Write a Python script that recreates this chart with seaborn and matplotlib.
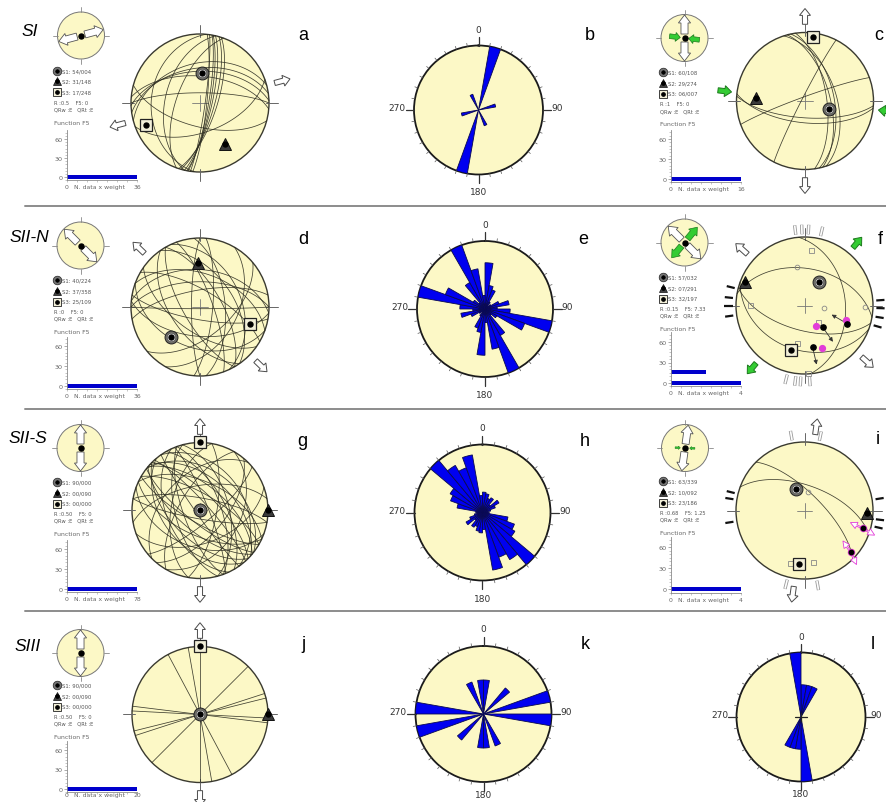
import numpy as np
import pandas as pd
import matplotlib
matplotlib.use("Agg")
import matplotlib.pyplot as plt
from matplotlib.patches import Circle, FancyArrow
from matplotlib.ticker import MultipleLocator
import seaborn as sns

sns.set_theme(style="white")
plt.rcParams["font.family"] = ["DejaVu Sans"]

# ------------------------------------------------------------------
# Fault-slip data per stage (dip direction / dip of fault planes,
# trend / plunge of principal stress axes S1, S2, S3)
# ------------------------------------------------------------------
# SI
a_dip_dir = [100, 103, 98, 106, 101, 96, 108, 352, 358, 345, 5, 0, 283, 290, 275, 160, 195]
a_dip = [80, 76, 84, 73, 78, 82, 70, 48, 52, 42, 58, 78, 48, 62, 30, 55, 62]
a_axis_trend = [4, 148, 248]
a_axis_plunge = [54, 31, 17]
a_fit = ("0.5", "0")
a_f5_weight = [36]
a_f5_level = [0]
a_f5_max = 36

c_dip_dir = [75, 78, 82, 72, 184, 186, 340, 297]
c_dip = [60, 55, 64, 52, 70, 64, 85, 86]
c_axis_trend = [108, 274, 7]
c_axis_plunge = [60, 29, 6]
c_fit = ("1", "0")
c_f5_weight = [16]
c_f5_level = [0]
c_f5_max = 16

# SII-N
d_dip_dir = [0, 5, 350, 190, 185, 200, 180, 60, 55, 70, 240, 235, 65, 95, 270, 85, 20, 30, 215, 120, 140]
d_dip = [60, 45, 70, 75, 55, 40, 88, 65, 50, 75, 70, 55, 40, 75, 80, 60, 50, 70, 60, 45, 55]
d_axis_trend = [224, 358, 109]
d_axis_plunge = [40, 37, 25]
d_fit = ("0", "0")
d_f5_weight = [36]
d_f5_level = [0]
d_f5_max = 36

f_dip_dir = [10, 195, 200, 85]
f_dip = [45, 60, 35, 40]
f_axis_trend = [32, 291, 197]
f_axis_plunge = [57, 7, 32]
f_fit = ("0.15", "7.33")
f_f5_weight = [4, 2]
f_f5_level = [0, 16]
f_f5_max = 4
f_slip_trend = [140, 169, 113]
f_slip_plunge = [56, 38, 33]
f_slip_sense = [145, 167, 300]
f_pink_trend = [152, 158, 109]
f_pink_plunge = [62, 34, 36]
f_sq_trend = [7, 191, 177, 141, 271]
f_sq_plunge = [20, 44, 2, 64, 21]
f_ci_trend = [98, 91, 349]
f_ci_plunge = [67, 12, 42]
f_strike_dark = [262, 270, 276, 284, 86, 92, 99, 106]
f_strike_light = [353, 358, 3, 13, 176, 183, 187, 194]

# SII-S
g_dip_dir = [40, 45, 42, 220, 225, 218, 48, 230, 38, 70, 75, 250, 255, 68, 245, 25, 30,
             205, 210, 200, 130, 300, 100, 280, 160, 350, 10, 190, 120, 315, 140, 55, 235, 60]
g_dip = [60, 70, 50, 65, 55, 75, 80, 45, 40, 65, 55, 70, 60, 80, 50, 55, 70,
         60, 75, 45, 60, 65, 70, 55, 50, 60, 75, 80, 40, 45, 75, 35, 85, 60]
g_axis_trend = [0, 90, 0]
g_axis_plunge = [90, 0, 0]
g_fit = ("0.50", "0")
g_f5_weight = [78]
g_f5_level = [0]
g_f5_max = 78

i_dip_dir = [20, 45]
i_dip = [60, 70]
i_axis_trend = [339, 92, 186]
i_axis_plunge = [63, 10, 23]
i_fit = ("0.68", "1.25")
i_f5_weight = [4]
i_f5_level = [0]
i_f5_max = 4
i_slip_trend = [107, 132]
i_slip_plunge = [12, 10]
i_flag_dir = [[295, 120], [325, 155]]
i_sq_trend = [195, 171]
i_sq_plunge = [22, 25]
i_ci_trend = [12]
i_ci_plunge = [68]
i_strike_dark = [261, 279, 284, 81, 97, 103]
i_strike_light = [350, 12, 170, 194]

# SIII
j_dip_dir = [90, 260, 242, 135, 162, 166, 183, 187]
j_dip = [90, 90, 90, 90, 90, 90, 90, 90]
j_axis_trend = [0, 90, 0]
j_axis_plunge = [90, 0, 0]
j_fit = ("0.50", "0")
j_f5_weight = [20]
j_f5_level = [0]
j_f5_max = 20

# Strike rose diagrams: relative frequency per 10 deg bin, 0-180 (bidirectional)
b_rose = [0, 1.0, 0, 0, 0, 0, 0, 0.27, 0, 0, 0, 0, 0, 0, 0, 0.26, 0, 0]
e_rose = [0.68, 0.35, 0.3, 0.12, 0.05, 0.1, 0.22, 0.36, 0.18, 0.37, 1.0, 0.62, 0.2, 0.12, 0.45, 1.0, 0.6, 0.2]
h_rose = [0.3, 0.28, 0.22, 0.25, 0.15, 0.28, 0.2, 0.12, 0.08, 0.1, 0.38, 0.5, 0.55, 1.0, 0.8, 0.7, 0.86, 0.25]
k_rose = [0.5, 0, 0, 0, 0.5, 0, 0, 1.0, 0, 1.0, 0, 0, 0, 0, 0, 0.5, 0, 0.5]
l_rose = [0.5, 0.5, 0.5, 0, 0, 0, 0, 0, 0, 0, 0, 0, 0, 0, 0, 0, 0, 1.0]

# ------------------------------------------------------------------
W, H = 886, 803
YELLOW = "#FCF8C6"
BLUE = "#0000F0"
GREEN = "#33CC33"
PINK = "#E23CD8"

fig = plt.figure(figsize=(W / 100, H / 100), dpi=100)
fig.patch.set_facecolor("white")

ov = fig.add_axes([0, 0, 1, 1])
ov.set_xlim(0, W)
ov.set_ylim(H, 0)
ov.axis("off")


def px_axes(x, y, w, h, **kw):
    return fig.add_axes([x / W, 1 - (y + h) / H, w / W, h / H], **kw)


def project(trend, plunge):
    t = np.radians(np.asarray(trend, float))
    p = np.radians(np.asarray(plunge, float))
    r = np.sqrt(2) * np.sin((np.pi / 2 - p) / 2)
    return r * np.sin(t), r * np.cos(t)


def plane_trace(dd, dip, n=121):
    th = np.linspace(0, np.pi, n)
    d, a = np.radians(dd), np.radians(dip)
    s = np.array([np.sin(d - np.pi / 2), np.cos(d - np.pi / 2), 0.0])
    v = np.array([np.sin(d) * np.cos(a), np.cos(d) * np.cos(a), np.sin(a)])
    L = np.outer(np.cos(th), s) + np.outer(np.sin(th), v)
    plunge = np.degrees(np.arcsin(np.clip(L[:, 2], -1, 1)))
    trend = np.degrees(np.arctan2(L[:, 0], L[:, 1]))
    return project(trend, plunge)


def unit(az):
    return np.sin(np.radians(az)), np.cos(np.radians(az))


def arrow(ax, az, r0, r1, width, hw, hl, fc="white", ec="#4a4a4a", lw=0.7, z=5):
    s, c = unit(az)
    ax.add_patch(FancyArrow(r0 * s, r0 * c, (r1 - r0) * s, (r1 - r0) * c, width=width,
                            head_width=hw, head_length=hl, length_includes_head=True,
                            fc=fc, ec=ec, lw=lw, zorder=z, clip_on=False))


def net(cx, cy, R, pad=1.45):
    ax = px_axes(cx - pad * R, cy - pad * R, 2 * pad * R, 2 * pad * R)
    ax.set_xlim(-pad, pad)
    ax.set_ylim(-pad, pad)
    ax.set_aspect("equal")
    ax.axis("off")
    ax.add_patch(Circle((0, 0), 1, fc=YELLOW, ec="#3a3a30", lw=1.0, zorder=1))
    for az in (0, 90, 180, 270):
        s, c = unit(az)
        ax.plot([0.95 * s, 1.13 * s], [0.95 * c, 1.13 * c], color="#666", lw=0.7, zorder=2)
    ax.plot([-0.11, 0.11], [0, 0], color="#777", lw=0.6, zorder=2)
    ax.plot([0, 0], [-0.11, 0.11], color="#777", lw=0.6, zorder=2)
    return ax


def stress_marks(ax, trend, plunge, big=8.5):
    x, y = project(trend, plunge)
    ax.plot(x[0], y[0], "o", ms=big + 0.8, mfc="#6d6d66", mec="#222", mew=0.7, zorder=6)
    ax.plot(x[0], y[0], "o", ms=big - 2.5, mfc="#eeeeee", mec="#444", mew=0.4, zorder=6)
    ax.plot(x[1], y[1], "^", ms=big, mfc="#3a3a3a", mec="#111", mew=0.7, zorder=6)
    ax.plot(x[2], y[2], "s", ms=big, mfc="#f2efd8", mec="#222", mew=0.9, zorder=6)
    ax.plot(x, y, "o", ms=big * 0.42, color="black", zorder=7)


def stereo(cx, cy, R, dd, dip, trend, plunge, ext_az, comp_az=None, comp_out=False):
    ax = net(cx, cy, R)
    for d, a in zip(dd, dip):
        x, y = plane_trace(d, a)
        ax.plot(x, y, color="#2b2b20", lw=0.55, alpha=0.9, zorder=3)
    for az in (ext_az, ext_az + 180):
        arrow(ax, az, 1.12, 1.35, 0.075, 0.16, 0.1)
    if comp_az is not None:
        for az in (comp_az, comp_az + 180):
            if comp_out:
                arrow(ax, az, 1.1, 1.3, 0.075, 0.16, 0.1, fc=GREEN, ec="#1d7a1d")
            else:
                arrow(ax, az, 1.28, 1.08, 0.075, 0.16, 0.1, fc=GREEN, ec="#1d7a1d")
    stress_marks(ax, trend, plunge)
    return ax


def inset(cx, cy, R, ext_az, comp_az=None, comp_style=None):
    pad = 1.35
    ax = px_axes(cx - pad * R, cy - pad * R, 2 * pad * R, 2 * pad * R)
    ax.set_xlim(-pad, pad)
    ax.set_ylim(-pad, pad)
    ax.set_aspect("equal")
    ax.axis("off")
    ax.add_patch(Circle((0, 0), 1, fc=YELLOW, ec="#777", lw=0.7, zorder=1))
    for az in (0, 90, 180, 270):
        s, c = unit(az)
        ax.plot([1.0 * s, 1.2 * s], [1.0 * c, 1.2 * c], color="#888", lw=0.6, zorder=2)
    for az in (ext_az, ext_az + 180):
        arrow(ax, az, 0.17, 0.98, 0.3, 0.52, 0.34, ec="#555", lw=0.6)
    if comp_az is not None:
        for az in (comp_az, comp_az + 180):
            if comp_style == "out":
                arrow(ax, az, 0.2, 0.85, 0.26, 0.46, 0.3, fc=GREEN, ec="#1d7a1d", lw=0.5)
            elif comp_style == "in":
                arrow(ax, az, 0.64, 0.18, 0.2, 0.38, 0.2, fc=GREEN, ec="#1d7a1d", lw=0.5)
            else:
                arrow(ax, az, 0.42, 0.2, 0.07, 0.14, 0.08, fc=GREEN, ec="#1d7a1d", lw=0.4)
    ax.plot(0, 0, "o", ms=3.6, color="black", zorder=8)


def legend_block(x_icon, y0, trend, plunge, fit):
    rows = [y0, y0 + 10.7, y0 + 21.5]
    ov.plot(x_icon, rows[0], "o", ms=6.2, mfc="#777", mec="#222", mew=0.5)
    ov.plot(x_icon, rows[0], "o", ms=4.0, mfc="#eee", mec="#555", mew=0.3)
    ov.plot(x_icon, rows[1], "^", ms=6.0, mfc="#444", mec="#111", mew=0.5)
    ov.plot(x_icon, rows[2], "s", ms=6.0, mfc="#f2efd8", mec="#222", mew=0.6)
    for yy in rows:
        ov.plot(x_icon, yy, "o", ms=2.4, color="black")
    for k in range(3):
        ov.text(x_icon + 5.5, rows[k], f"S{k + 1}: {plunge[k]:02d}/{trend[k]:03d}",
                fontsize=3.9, color="#555", va="center", ha="left")
    ov.text(x_icon - 2.5, y0 + 32, f"R :{fit[0]}    F5: {fit[1]}", fontsize=3.7,
            color="#555", va="center", ha="left")
    ov.text(x_icon - 2.5, y0 + 38.5, "QRw :E   QRt :E", fontsize=3.7,
            color="#555", va="center", ha="left")
    ov.text(x_icon - 2.5, y0 + 52, "Function F5", fontsize=4.4,
            color="#666", va="center", ha="left")


def f5_chart(x_axis, x_end, y_zero, y_sixty, weights, levels, xmax, label_y=-0.12):
    ppu = (y_zero - y_sixty) / 60.0
    top = y_zero - 74 * ppu
    bot = y_zero + 5 * ppu
    ax = px_axes(x_axis, top, x_end - x_axis, bot - top)
    df = pd.DataFrame({"weight": weights, "level": levels})
    lv = np.unique(levels)
    nw = float(np.diff(lv).min()) if len(lv) > 1 else 1.0
    sns.barplot(data=df, x="weight", y="level", orient="y", native_scale=True,
                width=6.0 / nw, color="#0000CC", saturation=1, linewidth=0,
                errorbar=None, ax=ax)
    ax.set_xlim(0, xmax)
    ax.set_ylim(-5, 74)
    ax.set_xlabel("")
    ax.set_ylabel("")
    ax.set_facecolor("none")
    for s in ("top", "right"):
        ax.spines[s].set_visible(False)
    for s in ("left", "bottom"):
        ax.spines[s].set_color("#8a8a8a")
        ax.spines[s].set_linewidth(0.6)
    ax.set_yticks([0, 30, 60])
    ax.set_yticklabels(["0", "30", "60"], fontsize=4.6, color="#666")
    ax.yaxis.set_minor_locator(MultipleLocator(5))
    ax.tick_params(axis="y", which="major", left=True, length=2.5, width=0.5, color="#888", pad=1)
    ax.tick_params(axis="y", which="minor", left=True, length=1.3, width=0.4, color="#999")
    ax.set_xticks([])
    ax.set_xticks(np.linspace(0, xmax, 8), minor=True)
    ax.tick_params(axis="x", which="minor", bottom=True, length=1.3, width=0.4, color="#999")
    tr = ax.get_xaxis_transform()
    ax.text(0, label_y, "0", transform=tr, fontsize=4.4, color="#666", ha="center", va="center")
    ax.text(xmax * 0.1, label_y, "N. data x weight", transform=tr, fontsize=4.4,
            color="#666", ha="left", va="center")
    ax.text(xmax, label_y, f"{xmax}", transform=tr, fontsize=4.4, color="#666",
            ha="center", va="center")
    return ax


def rose(cx, cy, R, freq, cross=False, r_bottom=1.26, r_side=1.13):
    ax = px_axes(cx - R, cy - R, 2 * R, 2 * R, projection="polar")
    ax.set_theta_zero_location("N")
    ax.set_theta_direction(-1)
    ax.set_facecolor(YELLOW)
    ax.grid(False)
    ax.set_xticks([])
    ax.set_yticks([])
    ax.spines["polar"].set_color("#1a1a1a")
    ax.spines["polar"].set_linewidth(1.3)
    vals = np.concatenate([freq, freq])
    starts = np.radians(np.arange(0, 360, 10))
    ax.bar(starts, vals, width=np.radians(10), align="edge", bottom=0,
           color=BLUE, edgecolor="#0a0a50", linewidth=0.6, zorder=3)
    ax.set_ylim(0, 1)
    for a in range(0, 360, 10):
        t = np.radians(a)
        if a % 90 == 0:
            ax.plot([t, t], [1.0, 1.13], color="#333", lw=0.9, clip_on=False, zorder=4)
        else:
            ax.plot([t, t], [1.0, 1.05], color="#555", lw=0.5, clip_on=False, zorder=4)
    kw = dict(fontsize=6.5, color="#333", clip_on=False)
    ax.text(0, 1.25, "0", ha="center", va="center", **kw)
    ax.text(np.pi, r_bottom, "180", ha="center", va="center", **kw)
    ax.annotate("270", xy=(1.5 * np.pi, 1.13), xytext=(0, 1.5), textcoords="offset points",
                ha="right", va="center", annotation_clip=False, **kw)
    ax.annotate("90", xy=(0.5 * np.pi, r_side), xytext=(0, 1.5), textcoords="offset points",
                ha="left", va="center", annotation_clip=False, **kw)
    if cross:
        ax.plot([0.5 * np.pi, 0.5 * np.pi], [0, 0.1], color="#222", lw=0.9, zorder=5)
        ax.plot([1.5 * np.pi, 1.5 * np.pi], [0, 0.1], color="#222", lw=0.9, zorder=5)
        ax.plot([0, 0], [0, 0.06], color="#222", lw=0.9, zorder=5)
        ax.plot([np.pi, np.pi], [0, 0.06], color="#222", lw=0.9, zorder=5)
    return ax


def strike_ticks(ax, dark, light):
    for az in dark:
        s, c = unit(az)
        ax.plot([1.05 * s, 1.17 * s], [1.05 * c, 1.17 * c], color="#111", lw=1.6,
                solid_capstyle="butt", zorder=4, clip_on=False)
    for az in light:
        s, c = unit(az)
        ax.plot([1.04 * s, 1.18 * s], [1.04 * c, 1.18 * c], color="#999", lw=2.4,
                solid_capstyle="butt", zorder=4, clip_on=False)
        ax.plot([1.045 * s, 1.175 * s], [1.045 * c, 1.175 * c], color="white", lw=1.2,
                solid_capstyle="butt", zorder=4, clip_on=False)


def open_marks(ax, sq_t, sq_p, ci_t, ci_p):
    x, y = project(sq_t, sq_p)
    ax.plot(x, y, "s", ms=3.6, mfc="none", mec="#888", mew=0.6, ls="none", zorder=5)
    x, y = project(ci_t, ci_p)
    ax.plot(x, y, "o", ms=3.4, mfc="none", mec="#888", mew=0.6, ls="none", zorder=5)


# ------------------------------------------------------------------
# Row 1 : SI
# ------------------------------------------------------------------
inset(81, 36.5, 23.5, 75)
legend_block(57, 71.5, a_axis_trend, a_axis_plunge, a_fit)
f5_chart(67, 137, 178, 140, a_f5_weight, a_f5_level, a_f5_max)
stereo(200, 104, 69, a_dip_dir, a_dip, a_axis_trend, a_axis_plunge, 75)
rose(478.5, 111, 64.5, b_rose)

inset(684.5, 39, 23.5, 0, 97, "in")
legend_block(663, 73, c_axis_trend, c_axis_plunge, c_fit)
f5_chart(671, 741, 180, 140, c_f5_weight, c_f5_level, c_f5_max)
stereo(805, 102, 68.5, c_dip_dir, c_dip, c_axis_trend, c_axis_plunge, 0, 97)

# ------------------------------------------------------------------
# Row 2 : SII-N
# ------------------------------------------------------------------
inset(80.5, 246.5, 23.5, 315)
legend_block(57, 281, d_axis_trend, d_axis_plunge, d_fit)
f5_chart(67, 137, 387, 347, d_f5_weight, d_f5_level, d_f5_max)
stereo(200, 308, 69, d_dip_dir, d_dip, d_axis_trend, d_axis_plunge, 314)
rose(485, 310, 68, e_rose)

inset(684.5, 243.5, 23.5, 315, 40, "out")
legend_block(663, 278, f_axis_trend, f_axis_plunge, f_fit)
f5_chart(671, 741, 384, 343, f_f5_weight, f_f5_level, f_f5_max)
ax_f = stereo(804.5, 306.5, 68.5, f_dip_dir, f_dip, f_axis_trend, f_axis_plunge,
              312, 40, comp_out=True)
strike_ticks(ax_f, f_strike_dark, f_strike_light)
open_marks(ax_f, f_sq_trend, f_sq_plunge, f_ci_trend, f_ci_plunge)
fx, fy = project(f_slip_trend, f_slip_plunge)
for x0, y0, az in zip(fx, fy, f_slip_sense):
    s, c = unit(az)
    ax_f.annotate("", xy=(x0 + 0.26 * s, y0 + 0.26 * c), xytext=(x0, y0),
                  arrowprops=dict(arrowstyle="-|>", color="#333", lw=0.6,
                                  mutation_scale=6, shrinkA=0, shrinkB=0), zorder=6)
px_, py_ = project(f_pink_trend, f_pink_plunge)
ax_f.plot(px_, py_, "o", ms=4.2, color=PINK, ls="none", zorder=7)
ax_f.plot(fx, fy, "o", ms=3.8, color="black", ls="none", zorder=7)

# ------------------------------------------------------------------
# Row 3 : SII-S
# ------------------------------------------------------------------
inset(80.5, 449, 23.5, 0)
legend_block(57, 483, g_axis_trend, g_axis_plunge, g_fit)
f5_chart(67, 137, 590, 550, g_f5_weight, g_f5_level, g_f5_max)
stereo(200, 511.5, 68, g_dip_dir, g_dip, g_axis_trend, g_axis_plunge, 0)
rose(482.5, 513.5, 68, h_rose)

inset(685, 449, 23.5, 8, 92, "tiny")
legend_block(663, 482, i_axis_trend, i_axis_plunge, i_fit)
f5_chart(671, 741, 590, 548, i_f5_weight, i_f5_level, i_f5_max)
ax_i = stereo(804.5, 511.5, 68.5, i_dip_dir, i_dip, i_axis_trend, i_axis_plunge, 8)
strike_ticks(ax_i, i_strike_dark, i_strike_light)
open_marks(ax_i, i_sq_trend, i_sq_plunge, i_ci_trend, i_ci_plunge)
ix, iy = project(i_slip_trend, i_slip_plunge)
for x0, y0, dirs in zip(ix, iy, i_flag_dir):
    for az in dirs:
        s, c = unit(az)
        ax_i.add_patch(FancyArrow(x0, y0, 0.2 * s, 0.2 * c, width=0.02, head_width=0.1,
                                  head_length=0.1, length_includes_head=True,
                                  fc="white", ec=PINK, lw=0.6, zorder=6, clip_on=False))
ax_i.plot(ix, iy, "o", ms=4.4, color=PINK, ls="none", zorder=7)
ax_i.plot(ix, iy, "o", ms=3.2, color="black", ls="none", zorder=8)

# ------------------------------------------------------------------
# Row 4 : SIII
# ------------------------------------------------------------------
inset(80.5, 654, 23.5, 0)
legend_block(57, 686, j_axis_trend, j_axis_plunge, j_fit)
f5_chart(67, 137, 790, 751, j_f5_weight, j_f5_level, j_f5_max, label_y=-0.05)
stereo(200, 715.5, 68, j_dip_dir, j_dip, j_axis_trend, j_axis_plunge, 0)
rose(483.5, 715, 68, k_rose, r_bottom=1.18)
rose(801, 718, 64.5, l_rose, cross=True, r_bottom=1.18, r_side=1.08)

# ------------------------------------------------------------------
# Stage labels, panel letters and separators
# ------------------------------------------------------------------
for y in (207, 410, 612):
    ov.plot([25, W], [y, y], color="#8c8c8c", lw=1.4)

stage_font = dict(fontsize=12.5, style="italic", family=["Liberation Sans", "DejaVu Sans"],
                  color="black", va="center", ha="left")
ov.text(22, 32, "SI", **stage_font)
ov.text(10, 237, "SII-N", **stage_font)
ov.text(9, 439, "SII-S", **stage_font)
ov.text(15, 647, "SIII", **stage_font)

letter_font = dict(fontsize=13, family=["Liberation Sans", "DejaVu Sans"], color="black",
                   va="center", ha="center")
letters = ["a", "b", "c", "d", "e", "f", "g", "h", "i", "j", "k", "l"]
letter_xy = [(303, 36), (590, 36), (879, 36), (303, 240), (583, 240), (880, 240),
             (302, 442), (585, 442), (878, 440), (303, 645), (585, 645), (873, 645)]
for t, (x, y) in zip(letters, letter_xy):
    ov.text(x, y, t, **letter_font)

fig.savefig("out.png", dpi=100, facecolor="white")
